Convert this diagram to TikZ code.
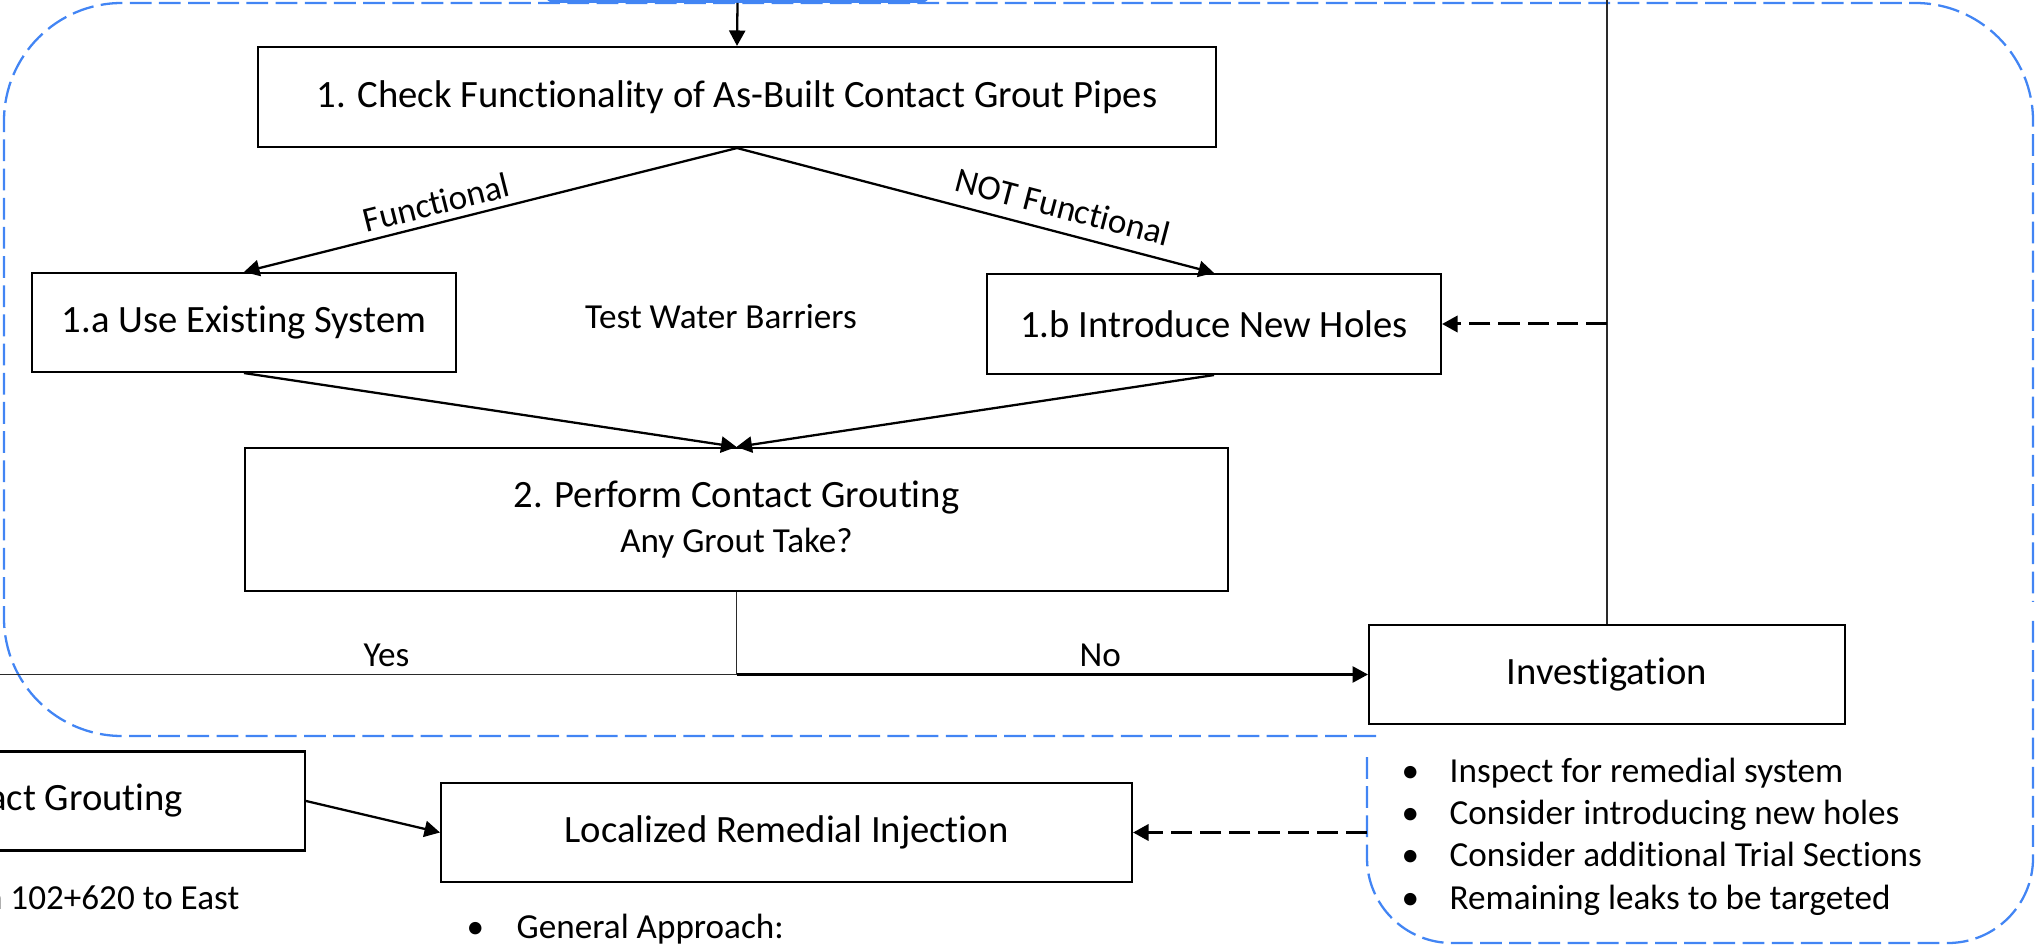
\documentclass[tikz,border=0pt]{standalone}
\usepackage{fontspec}
\setmainfont{Carlito}[Ligatures=NoCommon]
\usepackage{xcolor}
\definecolor{grtBlue}{HTML}{4285F4}
\definecolor{grtGray}{HTML}{2A2A2A}
\usepackage{tikz}
\usetikzlibrary{arrows.meta,calc,positioning}
\newcommand{\grtbullet}{\makebox[0.48cm][l]{\textbullet}}

\begin{document}
\begin{tikzpicture}[>={Triangle[length=4.4pt,width=4.6pt]},font=\fontsize{11}{13}\selectfont]
  \tikzset{
    stepbox/.style={
      draw=black,
      fill=white,
      line width=0.6pt,
      inner sep=0pt,
      minimum height=0.99cm
    },
    flowarrow/.style={->, black, line width=0.65pt},
    loopline/.style={grtGray, line width=0.4pt},
    dasharrow/.style={->, black, line width=0.85pt, dash pattern=on 6pt off 2.3pt},
    regionline/.style={grtBlue, line width=0.65pt, dash pattern=on 6.2pt off 2.1pt},
    edgelabel/.style={font=\fontsize{10}{12}\selectfont, text=black, inner sep=2pt},
    noteline/.style={font=\fontsize{10}{12}\selectfont, anchor=base west, inner sep=0pt}
  }
  \path[use as bounding box] (0,0) rectangle (20.36,9.47);

  % dashed groupings
  \draw[regionline, rounded corners=1.18cm] (13.76,2.11) -- (0.04,2.11) -- (0.04,9.44) -- (20.33,9.44) -- (20.33,3.45);
  \draw[regionline, rounded corners=0.85cm] (13.67,1.90) -- (13.67,0.04) -- (20.33,0.04) -- (20.33,3.27);

  \node[draw=grtBlue, fill=white, line width=1.1pt, rounded corners=2pt, minimum width=3.81cm, minimum height=1cm, anchor=south] (startbox) at (7.375,9.44) {};

  % step boxes
  \node[stepbox, minimum width=9.58cm, minimum height=1.00cm] (check) at (7.37,8.50) {1. Check Functionality of As-Built Contact Grout Pipes};
  \node[stepbox, minimum width=4.24cm] (existing) at (2.44,6.245) {1.a Use Existing System};
  \node[stepbox, minimum width=4.54cm, minimum height=1.00cm] (newholes) at (12.14,6.23) {1.b Introduce New Holes};
  \node[edgelabel] (barriers) at (7.21,6.30) {Test Water Barriers};
  \node[stepbox, minimum width=9.83cm, minimum height=1.43cm, align=center] (grouting) at (7.365,4.275) {2. Perform Contact Grouting\\{\fontsize{10}{12}\selectfont Any Grout Take?}};
  \node[stepbox, minimum width=4.76cm] (investigation) at (16.07,2.725) {Investigation};
  \node[stepbox, minimum width=6.91cm] (remedial) at (7.865,1.145) {Localized Remedial Injection};
  \node[stepbox, minimum width=5.12cm] (prevstep) at (0.49,1.46) {Contact Grouting};

  % notes
  \node[edgelabel, anchor=base east, inner sep=0pt] (station) at (2.40,0.375) {Station 102+620 to East};
  \node[noteline] (approach) at (4.66,0.09) {\makebox[0.5cm][l]{\textbullet}General Approach:};
  \node[noteline] (inv1) at (14.01,1.65) {\grtbullet Inspect for remedial system};
  \node[noteline] (inv2) at (14.01,1.23) {\grtbullet Consider introducing new holes};
  \node[noteline] (inv3) at (14.01,0.80) {\grtbullet Consider additional Trial Sections};
  \node[noteline] (inv4) at (14.01,0.38) {\grtbullet Remaining leaks to be targeted};

  % connectors
  \draw[flowarrow] (startbox.south) -- (check.north);
  \draw[flowarrow] (check.south) -- node[edgelabel, pos=0.6, sloped, above] {Functional} (existing.north);
  \draw[flowarrow] (check.south) -- node[edgelabel, pos=0.67, sloped, above=1.5pt] {NOT Functional} (newholes.north);
  \draw[flowarrow] (existing.south) -- (grouting.north);
  \draw[flowarrow] (newholes.south) -- (grouting.north);

  \coordinate (decision) at (grouting.south |- investigation.west);
  \coordinate (yesend) at (-0.5,2.725);
  \draw[loopline] (grouting.south) -- (decision) -- node[edgelabel, pos=0.445, above] {Yes} (yesend);
  \draw[flowarrow] (decision) -- node[edgelabel, pos=0.576, above] {No} (investigation.west);

  \coordinate (looptop) at ($(investigation.north)+(0,7)$);
  \draw[loopline] (investigation.north) -- (looptop);
  \draw[dasharrow] (newholes.east -| investigation.north) -- (newholes.east);

  \coordinate (notesedge) at (13.67,1.145);
  \draw[flowarrow] (prevstep.east) -- (remedial.west);
  \draw[dasharrow] (notesedge) -- (remedial.east);
\end{tikzpicture}
\end{document}
